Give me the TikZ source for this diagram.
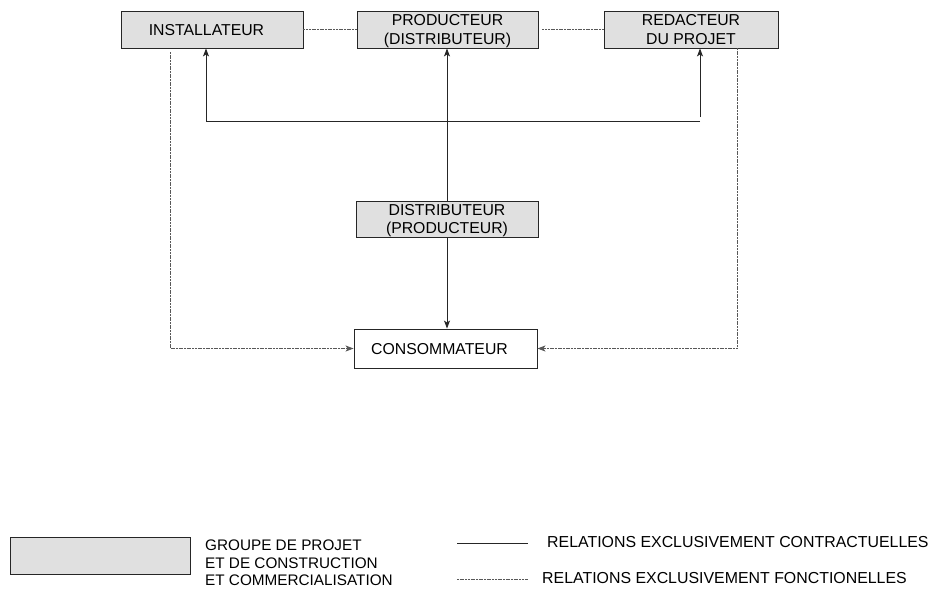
\documentclass[tikz,border=0pt]{standalone}
\usepackage{fontspec}
\setmainfont{Liberation Sans}
\usetikzlibrary{arrows.meta}
\definecolor{boxgray}{HTML}{E0E0E0}
\definecolor{dotgray}{HTML}{585858}
\tikzset{
  gbox/.style={draw=black!85, line width=0.9pt, fill=boxgray, inner sep=0pt, align=center, text depth=0pt, font=\fontsize{15.8}{18.5}\selectfont},
  wbox/.style={draw=black!85, line width=0.9pt, fill=white, inner sep=0pt, align=center, text depth=0pt, font=\fontsize{15.8}{18.5}\selectfont},
  txt/.style={inner sep=0pt, font=\fontsize{15.9}{18}\selectfont},
  contract/.style={draw=black!85, line width=0.9pt},
  contractarrow/.style={contract, -{Stealth[length=8pt,width=6pt,inset=2pt]}},
  funct/.style={draw=dotgray, line width=0.9pt, dash pattern=on 2pt off 0.7pt},
  functarrow/.style={funct, -{Stealth[length=8pt,width=6pt,inset=2pt]}},
}
\begin{document}
\begin{tikzpicture}[x=1pt,y=-1pt]
\useasboundingbox (0,0) rectangle (930,590);
% top boxes
\node[gbox, minimum width=182pt, minimum height=37pt] (inst) at (212,29.5) {INSTALLATEUR\hspace*{11pt}};
\node[gbox, minimum width=181pt, minimum height=37pt] (prod) at (447.5,29.5) {PRODUCTEUR\\(DISTRIBUTEUR)};
\node[gbox, minimum width=174pt, minimum height=37pt] (red) at (691,29.5) {REDACTEUR\\DU PROJET};
\node[gbox, minimum width=182pt, minimum height=36pt] (dist) at (447,219) {DISTRIBUTEUR\\(PRODUCTEUR)};
\node[wbox, minimum width=183pt, minimum height=39pt] (cons) at (445.5,348.5) {CONSOMMATEUR\hspace*{12pt}};
% functional links between top boxes
\draw[funct] (inst.east) -- (prod.west);
\draw[funct] ([xshift=4pt]prod.east) -- (red.west);
% contractual links
\coordinate (hl) at (206,121);
\coordinate (hr) at (700,121);
\draw[contractarrow] (hl -| dist.north) -- (dist.north |- prod.south);
\draw[contract] (dist.north) -- (hl -| dist.north);
\draw[contractarrow] (hr) -- (hl) -- (hl |- inst.south);
\draw[contractarrow] ([yshift=4pt]hr) -- (hr |- red.south);
\draw[contractarrow] (dist.south) -- (dist.south |- cons.north);
% functional links to consumer
\coordinate (fl) at (170,52);
\coordinate (fr) at (737,48);
\draw[functarrow] (fl) |- (cons.west);
\draw[functarrow] (fr) |- (cons.east);
% legend
\node[gbox, minimum width=180pt, minimum height=37pt] (leg) at (100,555.5) {};
\node[txt, anchor=north west, align=left, font=\fontsize{15.3}{17.8}\selectfont] (legtxt) at (205,539.5) {GROUPE DE PROJET\\ET DE CONSTRUCTION\\ET COMMERCIALISATION};
\coordinate (s1) at (457,543);
\coordinate (s2) at (528,543);
\draw[contract] (s1) -- (s2);
\node[txt, anchor=west] (ltc) at (547,542) {RELATIONS EXCLUSIVEMENT CONTRACTUELLES};
\coordinate (d1) at (457,579);
\coordinate (d2) at (528,579);
\draw[funct] (d1) -- (d2);
\node[txt, anchor=west] (ltf) at (542,578) {RELATIONS EXCLUSIVEMENT FONCTIONELLES};
\end{tikzpicture}
\end{document}
